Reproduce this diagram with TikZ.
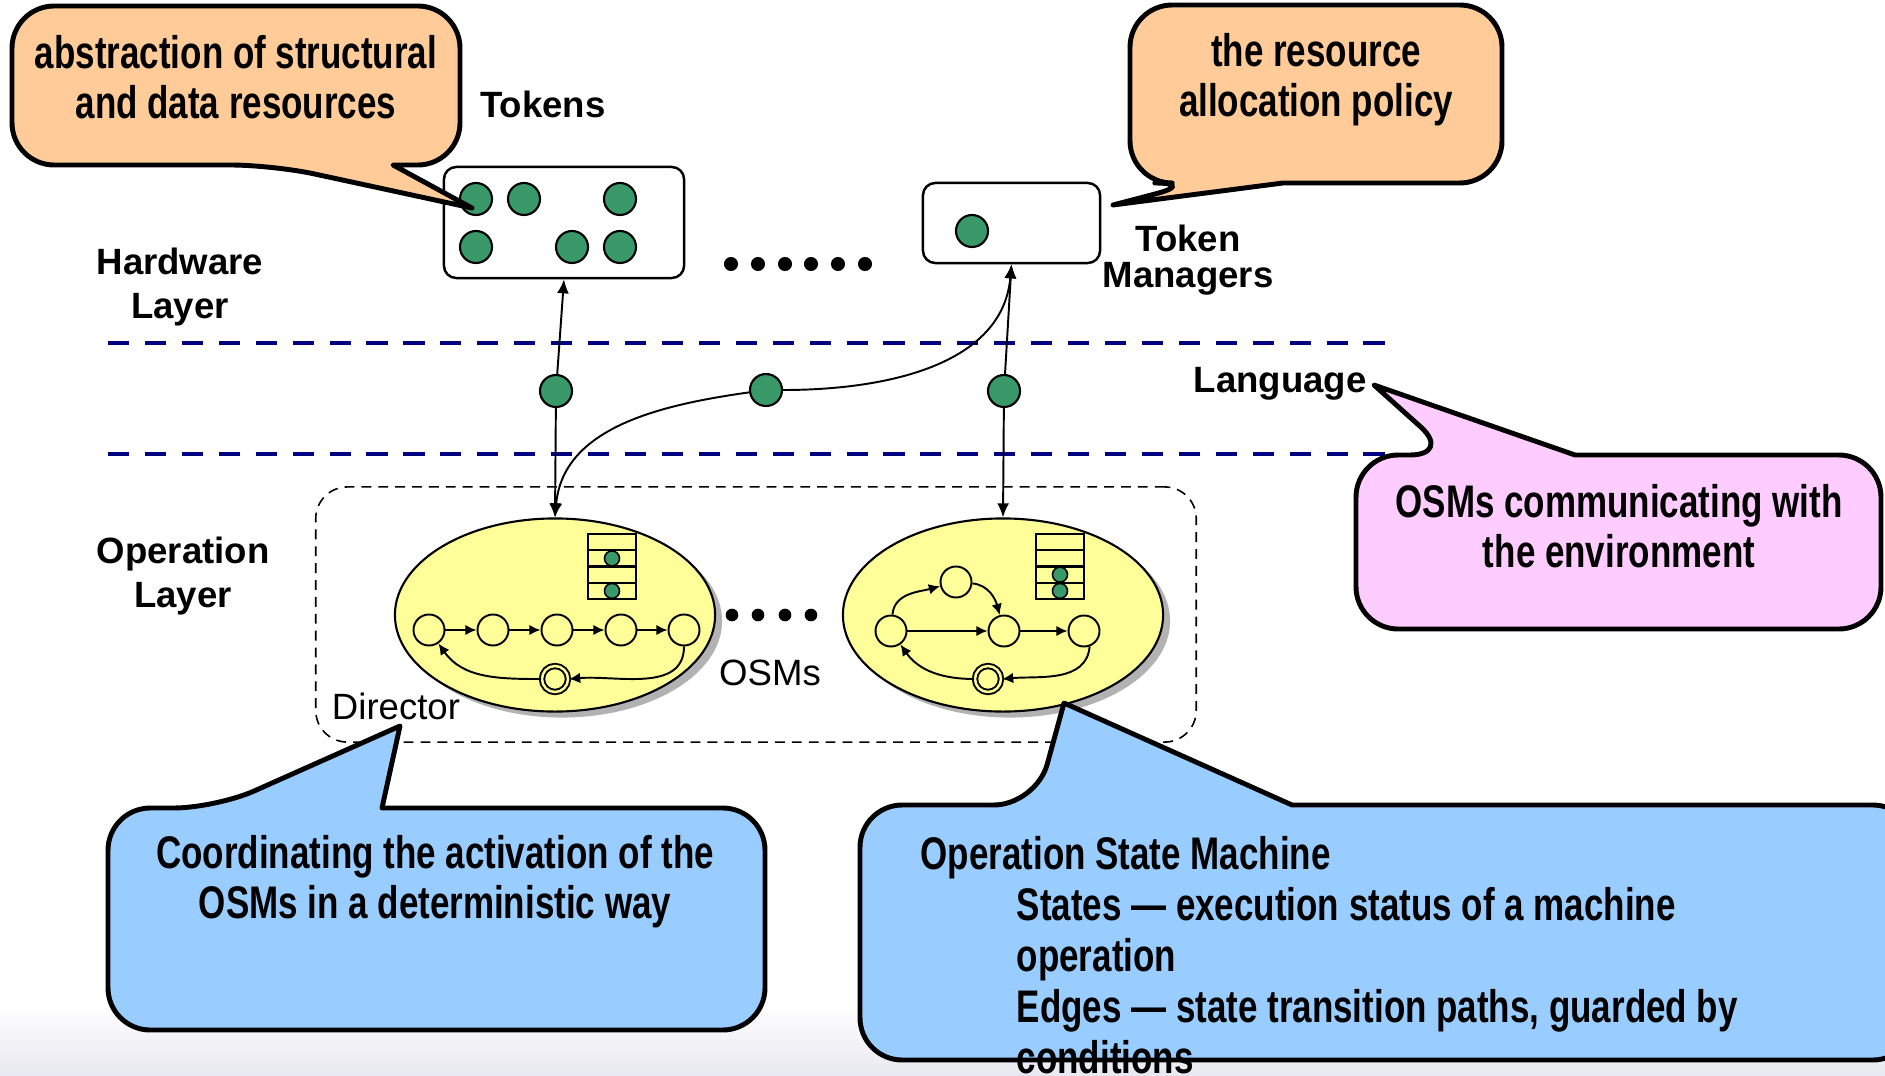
\documentclass[tikz,border=0pt]{standalone}
\usepackage{fontspec}
\setmainfont{Liberation Sans}
\newfontfamily\calloutfont[FakeStretch=0.765]{Liberation Sans}
\usetikzlibrary{shapes.geometric,arrows.meta,shadows}
\definecolor{tokengreen}{RGB}{58,153,104}
\definecolor{layerblue}{RGB}{0,0,128}
\definecolor{osmyellow}{RGB}{255,255,153}
\definecolor{noteorange}{RGB}{255,204,153}
\definecolor{notepink}{RGB}{255,204,255}
\definecolor{noteblue}{RGB}{153,204,255}
\definecolor{slidegray}{RGB}{232,232,240}
\begin{document}
\begin{tikzpicture}[x=0.01cm,y=-0.01cm]
        % Styles
        \tikzstyle{label}=[font=\fontsize{10.4}{12.7}\selectfont\bfseries,align=center]
        \tikzstyle{plain label}=[font=\fontsize{10.4}{12.7}\selectfont]
        \tikzstyle{note}=[line width=1.4pt,line join=round]
        \tikzstyle{note text}=[font=\calloutfont\bfseries\fontsize{13}{14.3}\selectfont,align=center]
        \tikzstyle{token}=[circle,draw,line width=0.6pt,fill=tokengreen,minimum size=0.32cm,inner sep=0pt]
        \tikzstyle{small token}=[token,line width=0.45pt,minimum size=0.15cm]
        \tikzstyle{tokbox}=[draw,line width=0.7pt,rounded corners=3.5pt]
        \tikzstyle{layer line}=[layerblue,line width=1.1pt,dash pattern=on 6pt off 4.5pt]
        \tikzstyle{link}=[line width=0.55pt,-{Latex[length=4pt,width=3.4pt]}]
        \tikzstyle{flow}=[line width=0.55pt,-{Latex[length=3.2pt,width=3pt]}]
        \tikzstyle{state}=[circle,draw,line width=0.55pt,fill=osmyellow,minimum size=0.31cm,inner sep=0pt]
        \tikzstyle{accept}=[state,minimum size=0.26cm,double=osmyellow,double distance=0.7pt]
        \tikzstyle{osm}=[ellipse,draw,line width=0.6pt,fill=osmyellow,minimum width=3.2cm,minimum height=1.93cm,
            drop shadow={shadow xshift=0.07cm,shadow yshift=-0.06cm,fill=black!30,opacity=1}]
        \tikzstyle{director}=[draw,line width=0.45pt,dash pattern=on 2.8pt off 2pt,rounded corners=9pt]
        \tikzstyle{queue}=[draw,line width=0.6pt]
        %background
        \clip (0,0) rectangle (1885,1076);
        \fill[white] (0,0) rectangle (1885,1076);
        \shade[top color=white,bottom color=slidegray] (0,1005) rectangle (1885,1076);
        %layers
        \draw[layer line] (108,343) -- (1400,343);
        \draw[layer line] (108,454) -- (1400,454);
        \node[label] (hwlabel) at (180,287) {Hardware\\Layer};
        \node[label] (oplabel) at (183,576) {Operation\\Layer};
        \node[label] (toklabel) at (543,104) {Tokens};
        \node[label] (tmlabel) at (1188,260) {Token\\[-2.5pt]Managers};
        \node[label] (langlabel) at (1280,384) {Language};
        %director and machines
        \node[director,minimum width=8.8cm,minimum height=2.55cm] (director) at (756,614.5) {};
        \node[osm] (osma) at (555,615) {};
        \node[osm] (osmb) at (1003,615) {};
        \node[plain label] (dirlabel) at (396,706) {Director};
        \node[plain label] (osmlabel) at (770,673) {OSMs};
        \foreach \x in {732,758,785,811}
            \fill (\x,615) circle[radius=1.8pt];
        %queues
        \foreach \qx in {588,1036} {
            \draw[queue] (\qx,534) rectangle ++(48,65);
            \foreach \r in {1,2,3}
                \draw[queue] (\qx,{534+16.25*\r}) -- ++(48,0);
        }
        \foreach \x/\y [count=\i] in {612/558.4,612/590.9,1060/574.6,1060/590.9}
            \node[small token] (qt\i) at (\x,\y) {};
        %states, left machine
        \foreach \x [count=\i] in {429,493,557,621,684}
            \node[state] (a\i) at (\x,630) {};
        \foreach \i/\j in {1/2,2/3,3/4,4/5}
            \draw[flow] (a\i) -- (a\j);
        \node[accept] (acca) at (555,679) {};
        \draw[flow] (a5.south) to[out=-90,in=5] (acca.east);
        \draw[flow] (acca.west) to[out=180,in=-55] (a1);
        %states, right machine
        \node[state] (b1) at (891,631) {};
        \node[state] (b2) at (956,582) {};
        \node[state] (b3) at (1004,631) {};
        \node[state] (b4) at (1084,631) {};
        \node[accept] (accb) at (988,679) {};
        \draw[flow] (b1) -- (b3);
        \draw[flow] (b3) -- (b4);
        \draw[flow] (b1) to[out=85,in=195] (b2);
        \draw[flow] (b2) to[out=-5,in=105] (b3);
        \draw[flow] (b4.-70) to[out=-95,in=5] (accb.east);
        \draw[flow] (accb.west) to[out=180,in=-55] (b1);
        %tokens
        \node[tokbox,minimum width=2.4cm,minimum height=1.11cm] (tokens) at (564,222.5) {};
        \foreach \x/\y [count=\i] in {476/199,524/199,620/199,476/247,572/247,620/247}
            \node[token] (t\i) at (\x,\y) {};
        \node[tokbox,minimum width=1.77cm,minimum height=0.8cm] (manager) at (1011.5,223) {};
        \node[token] (mt) at (972,231) {};
        \foreach \x in {731,758,785,811,838,865}
            \fill (\x,264) circle[radius=2pt];
        \node[token] (tka) at (556,391) {};
        \node[token] (tkb) at (766,390) {};
        \node[token] (tkc) at (1004,391) {};
        %links
        \draw[link] (tka) -- (tokens.south);
        \draw[link] (tka) -- (osma.north);
        \draw[link] (tkb) to[out=0,in=-95] (manager.south);
        \draw[link] (tkb) to[out=188,in=85] (osma.north);
        \draw[link] (tkc) -- (manager.south);
        \draw[link] (tkc) -- (osmb.north);
        %notes
        \draw[note,fill=noteorange] (393,165) [rounded corners=12pt] -- (460,165) -- (460,6) -- (12,6) -- (12,165) -- (273,165) [sharp corners] -- (472,208) -- cycle;
        \node[note text] (tokennote) at (236,77) {abstraction of structural\\and data resources};
        \draw[note,fill=noteorange] (1283,183) [rounded corners=12pt] -- (1502,183) -- (1502,5) -- (1130,5) -- (1130,183) -- (1197,183) [sharp corners] -- (1113,205) -- cycle;
        \node[note text] (policynote) at (1316,80) {the resource\\allocation policy};
        \draw[note,fill=notepink] (1575,455) [rounded corners=12pt] -- (1881,455) -- (1881,629) -- (1356,629) -- (1356,455) -- (1452,455) [sharp corners] -- (1374,385) -- cycle;
        \node[note text] (langnote) at (1619,526) {OSMs communicating with\\the environment};
        \draw[note,fill=noteblue] (382,808) [rounded corners=12pt] -- (765,808) -- (765,1030) -- (108,1030) -- (108,808) -- (216,808) [sharp corners] -- (400,726) -- cycle;
        \node[note text] (dirnote) at (435,882) {Coordinating the activation of the\\OSMs in a deterministic way};
        \draw[note,fill=noteblue] (1292,805) [rounded corners=12pt] -- (1915,805) -- (1915,1060) -- (860,1060) -- (860,805) -- (1036,805) [sharp corners] -- (1064,703) -- cycle;
        \node[note text,align=left,anchor=west,inner sep=0pt,font=\calloutfont\bfseries\fontsize{13}{14.5}\selectfont] (osmnote) at (920,955)
            {Operation State Machine\\
             \hspace*{0.96cm}States — execution status of a machine\\
             \hspace*{0.96cm}operation\\
             \hspace*{0.96cm}Edges — state transition paths, guarded by\\
             \hspace*{0.96cm}conditions};
\end{tikzpicture}
\end{document}
